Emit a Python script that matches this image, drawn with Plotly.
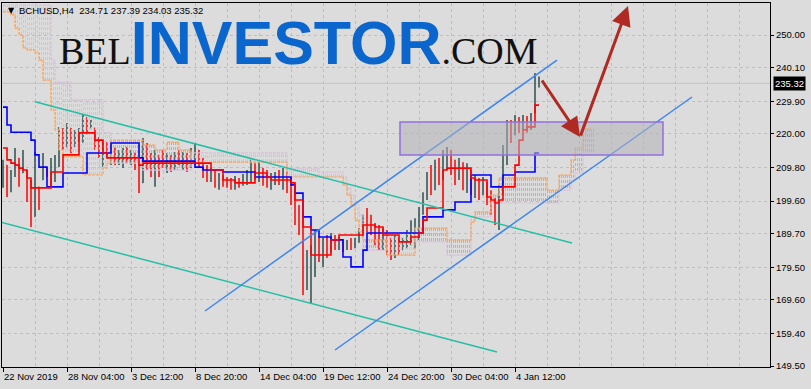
import plotly.graph_objects as go

# ---------------- data ----------------
SYMBOL = "BCHUSD,H4"
HEADER_OHLC = [234.71, 237.39, 234.03, 235.32]   # open, high, low, close of last bar
FIRST_OPEN = 204.0

# one sample every 2 H4 bars (bar index = 2*k), first bar 22 Nov 2019 20:00
HIGH = [
    212.1, 210.5, 209.0, 215.7, 212.7, 215.1, 209.0, 206.0, 214.5, 203.9,
    214.2, 209.9, 212.7, 213.6, 222.1, 221.8, 223.3, 221.8, 221.2, 221.8,
    225.7, 225.1, 224.2, 221.8, 219.0, 218.1, 217.5, 216.6, 215.7, 215.1,
    215.7, 216.0, 215.1, 214.2, 211.4, 218.7, 217.2, 214.2, 215.1, 213.6,
    215.1, 214.2, 213.6, 214.5, 215.1, 214.5, 214.2, 215.7, 217.2, 215.1,
    212.7, 210.5, 209.6, 209.0, 208.1, 207.5, 206.9, 206.6, 207.2, 206.6,
    207.8, 209.0, 212.1, 211.1, 211.4, 209.6, 209.0, 208.1, 208.4, 209.0,
    209.6, 208.4, 206.9, 202.0, 198.4, 196.0, 184.7, 186.2, 190.8, 188.7,
    188.4, 189.3, 189.9, 189.3, 188.7, 187.8, 187.8, 188.4, 188.4, 191.4,
    195.4, 197.5, 195.4, 192.9, 192.3, 191.4, 190.8, 188.4, 189.3, 188.4,
    188.4, 190.8, 193.8, 194.4, 197.8, 202.3, 208.4, 210.5, 212.1, 212.7,
    215.1, 216.0, 215.1, 212.1, 212.7, 211.4, 211.1, 209.0, 207.5, 206.6,
    206.9, 205.4, 202.9, 200.5, 204.5, 216.6, 224.2, 224.2, 225.7, 225.1,
    225.7, 225.4, 226.3, 238.5, 237.39,
]
LOW = [
    203.6, 200.8, 202.3, 206.9, 203.9, 208.1, 199.3, 191.7, 194.8, 196.9,
    206.0, 206.9, 203.9, 205.4, 209.9, 215.1, 216.0, 214.2, 216.0, 217.5,
    217.2, 219.9, 221.8, 215.1, 212.7, 209.9, 212.7, 210.5, 210.5, 210.5,
    209.6, 211.1, 210.5, 209.0, 202.0, 205.1, 209.0, 206.9, 203.9, 206.9,
    209.6, 208.1, 208.4, 209.0, 210.5, 209.0, 208.4, 209.6, 210.5, 209.6,
    206.6, 205.4, 205.4, 203.6, 203.0, 203.9, 203.6, 203.0, 203.0, 203.6,
    204.2, 204.5, 205.4, 206.0, 205.4, 204.2, 203.6, 203.0, 204.5, 204.5,
    203.0, 202.0, 198.4, 192.3, 189.3, 171.1, 172.6, 168.6, 176.5, 181.1,
    179.6, 182.3, 183.8, 184.7, 184.7, 184.1, 184.7, 184.7, 185.3, 186.9,
    188.7, 190.2, 189.3, 186.2, 184.7, 184.7, 183.2, 181.7, 182.3, 183.2,
    184.7, 185.3, 186.2, 185.3, 187.8, 195.4, 199.9, 201.4, 202.9, 204.5,
    206.0, 209.0, 207.5, 204.5, 206.0, 202.9, 202.0, 201.4, 200.5, 199.9,
    201.4, 198.4, 195.4, 192.3, 190.8, 201.4, 210.5, 217.2, 219.6, 220.3,
    221.2, 220.3, 221.2, 226.3, 234.03,
]
CLOSE = [
    210.5, 202.9, 207.5, 214.5, 206.0, 213.6, 200.5, 193.2, 212.7, 198.4,
    212.1, 209.0, 211.4, 212.7, 221.2, 216.0, 222.1, 215.1, 219.6, 221.2,
    224.8, 221.2, 222.1, 215.7, 213.3, 216.6, 213.6, 215.7, 212.1, 213.6,
    215.1, 212.7, 214.5, 210.5, 204.5, 216.6, 212.1, 209.0, 213.6, 212.1,
    210.5, 212.7, 209.6, 213.6, 212.1, 213.6, 210.5, 215.1, 215.7, 211.4,
    208.4, 206.6, 208.4, 205.1, 206.6, 206.0, 205.1, 204.5, 206.0, 205.4,
    206.9, 208.1, 210.5, 207.5, 209.6, 205.4, 204.5, 206.6, 207.5, 206.0,
    208.4, 204.5, 199.9, 193.8, 190.8, 174.1, 175.6, 183.2, 189.3, 183.2,
    186.2, 184.7, 188.4, 186.2, 187.8, 186.2, 186.9, 186.2, 187.8, 190.2,
    193.8, 192.3, 190.8, 189.3, 187.8, 189.3, 184.7, 183.2, 186.2, 184.7,
    187.2, 189.3, 192.3, 193.2, 196.3, 201.4, 206.6, 204.5, 209.6, 207.5,
    213.6, 214.5, 210.5, 206.6, 210.5, 204.5, 209.0, 202.9, 204.5, 201.4,
    205.4, 199.9, 196.9, 193.8, 202.9, 215.1, 222.7, 221.2, 224.2, 221.8,
    224.8, 222.7, 225.7, 236.9, 235.32,
]
TENKAN = [
    215.7, 212.1, 211.1, 210.5, 209.6, 209.0, 206.6, 203.6, 203.6, 203.6,
    203.6, 203.6, 208.4, 208.4, 208.4, 213.6, 213.6, 213.6, 213.6, 220.3,
    220.3, 220.3, 220.3, 218.1, 218.1, 214.2, 212.7, 212.7, 212.7, 212.7,
    212.7, 212.7, 212.7, 212.7, 210.5, 211.1, 211.1, 211.1, 211.1, 211.1,
    211.1, 211.1, 211.1, 211.1, 211.1, 211.1, 211.1, 211.1, 211.1, 211.1,
    211.1, 211.1, 209.0, 209.0, 209.0, 206.0, 206.0, 206.0, 205.1, 205.1,
    205.1, 205.1, 205.1, 208.1, 208.1, 208.1, 206.9, 206.0, 206.0, 206.0,
    206.0, 206.0, 205.1, 199.9, 199.9, 191.7, 191.7, 183.2, 183.2, 183.2,
    183.2, 183.2, 187.8, 187.8, 189.3, 189.3, 189.3, 189.3, 189.3, 189.3,
    192.3, 192.3, 192.3, 191.7, 191.7, 189.3, 189.3, 189.3, 189.3, 187.2,
    187.2, 187.2, 188.7, 188.7, 189.9, 193.8, 197.5, 197.5, 197.5, 197.5,
    209.0, 209.6, 209.6, 209.6, 209.6, 209.6, 209.6, 206.6, 206.0, 206.0,
    206.0, 200.8, 199.9, 199.0, 199.9, 203.9, 203.9, 203.9, 210.5, 218.1,
    221.2, 222.1, 222.1, 228.7, 228.7,
]
KIJUN = [
    228.1, 222.7, 220.5, 220.5, 220.5, 220.5, 220.5, 218.1, 213.6, 209.9,
    209.9, 203.9, 203.9, 203.9, 203.9, 208.1, 208.1, 208.1, 208.1, 208.1,
    208.1, 214.2, 214.2, 214.2, 214.2, 214.2, 214.2, 217.2, 217.2, 217.2,
    217.2, 217.2, 217.2, 217.2, 212.7, 211.7, 211.7, 211.7, 211.7, 211.7,
    211.7, 211.7, 211.7, 211.7, 211.7, 211.7, 211.7, 211.7, 209.9, 209.9,
    209.0, 209.0, 209.0, 209.0, 209.0, 208.4, 208.4, 208.4, 208.4, 208.4,
    208.4, 208.4, 208.4, 206.9, 206.9, 206.9, 206.9, 206.9, 206.9, 206.9,
    206.9, 206.9, 204.5, 202.0, 202.0, 194.8, 194.8, 190.8, 190.8, 188.7,
    188.7, 188.7, 187.8, 187.8, 187.8, 182.6, 182.6, 179.6, 179.6, 179.6,
    184.7, 189.9, 189.9, 189.9, 189.9, 189.9, 189.9, 189.9, 189.9, 189.9,
    189.9, 189.9, 189.9, 189.9, 189.9, 194.8, 194.8, 194.8, 194.8, 194.8,
    196.9, 196.9, 196.9, 199.3, 199.3, 199.3, 199.3, 207.5, 207.5, 207.5,
    207.5, 207.5, 203.9, 203.9, 203.9, 207.5, 207.5, 207.5, 208.4, 208.4,
    208.4, 208.4, 208.4, 214.2, 214.2,
]
SPAN_A = [
    257.0, 257.0, 256.1, 252.1, 250.0, 246.1, 245.4, 245.4, 244.5, 242.4,
    236.3, 236.3, 227.2, 221.2, 215.1, 213.0, 213.0, 213.0, 213.0, 213.0,
    207.5, 207.5, 207.5, 207.5, 207.5, 209.6, 211.1, 218.1, 218.1, 218.1,
    218.1, 218.1, 218.1, 218.1, 218.1, 216.6, 216.6, 216.6, 215.1, 215.1,
    215.1, 217.5, 217.5, 217.5, 215.1, 215.1, 215.1, 211.1, 211.1, 211.1,
    211.1, 211.1, 211.4, 211.4, 211.4, 211.4, 211.4, 211.4, 211.4, 211.4,
    211.4, 211.4, 211.4, 211.4, 211.4, 211.4, 211.4, 211.4, 211.4, 211.4,
    211.4, 206.9, 206.9, 206.9, 206.9, 206.9, 206.9, 206.9, 206.9, 206.9,
    206.9, 206.9, 206.9, 206.9, 206.9, 204.5, 201.4, 198.4, 193.8, 190.2,
    187.8, 187.8, 187.8, 187.8, 187.8, 187.8, 183.2, 183.2, 183.2, 183.2,
    183.2, 183.2, 183.2, 191.4, 191.4, 191.4, 191.4, 191.4, 191.4, 191.4,
    191.4, 187.8, 187.8, 187.8, 187.8, 187.8, 187.8, 193.2, 196.3, 196.3,
    196.3, 196.3, 201.4, 201.4, 206.6, 206.6, 206.6, 206.6, 206.6, 206.6,
    206.6, 206.6, 206.6, 206.6, 206.6, 206.6, 202.9, 202.9, 202.9, 207.5,
    207.5, 207.5, 212.1, 215.7, 215.7, 221.5, 221.5, 221.5,
]
SPAN_B = [
    259.1, 259.1, 259.1, 259.1, 259.1, 259.1, 259.1, 259.1, 259.1, 259.1,
    259.1, 259.1, 242.4, 235.7, 235.7, 235.7, 235.7, 230.3, 230.3, 230.3,
    230.3, 230.3, 230.3, 230.3, 230.3, 220.3, 220.3, 211.1, 211.1, 211.1,
    211.1, 211.1, 211.1, 211.1, 211.1, 209.0, 209.0, 209.0, 209.0, 209.0,
    209.0, 209.0, 209.0, 209.0, 209.0, 209.0, 209.0, 214.2, 214.2, 214.2,
    214.2, 214.2, 214.2, 214.2, 214.2, 214.2, 214.2, 214.2, 214.2, 214.2,
    214.2, 214.2, 214.2, 214.2, 214.2, 214.2, 214.2, 214.2, 214.2, 214.2,
    214.2, 209.6, 209.6, 209.6, 209.6, 209.6, 209.6, 209.6, 209.6, 208.4,
    208.4, 208.4, 208.4, 208.4, 208.4, 206.9, 203.6, 201.4, 198.4, 195.4,
    184.7, 184.7, 184.7, 184.7, 184.7, 184.7, 189.9, 189.9, 189.9, 189.9,
    189.9, 189.9, 189.9, 187.2, 187.2, 187.2, 187.2, 187.2, 187.2, 187.2,
    187.2, 183.2, 183.2, 183.2, 183.2, 183.2, 183.2, 194.8, 194.8, 194.8,
    194.8, 194.8, 199.0, 199.0, 199.0, 199.0, 199.0, 199.0, 199.0, 199.0,
    199.0, 199.0, 199.0, 199.0, 199.0, 199.0, 199.0, 199.0, 199.0, 202.9,
    202.9, 202.9, 206.0, 208.1, 208.1, 214.5, 214.5, 214.5,
]

X_TICK_BARS = [0, 32, 64, 96, 128, 160, 192, 224, 256]
X_TICK_LABELS = ["22 Nov 2019", "28 Nov 04:00", "3 Dec 12:00", "8 Dec 20:00",
                 "14 Dec 04:00", "19 Dec 12:00", "24 Dec 20:00", "30 Dec 04:00",
                 "4 Jan 12:00"]
Y_TICK_VALUES = [250.00, 240.10, 229.90, 220.00, 209.80, 199.60, 189.70,
                 179.50, 169.60, 159.40, 149.50]
Y_TICK_LABELS = ["250.00", "240.10", "229.90", "220.00", "209.80", "199.60",
                 "189.70", "179.50", "169.60", "159.40", "149.50"]

# analyst drawings: (bar index, price) endpoints
DOWN_CHANNEL = [((16, 229.75), (284.5, 186.85)), ((-1.5, 193.23), (247, 153.76))]
UP_CHANNEL = [((101, 166.21), (277, 242.41)), ((166, 154.37), (344.5, 231.18))]
ZONE = (198.5, 330, 213.6, 223.6)            # bar from, bar to, price low, price high
ARROWS = [((269, 236.65), (288.5, 219.0)), ((288.5, 219.0), (312.5, 258.8))]

# ---------------- figure ----------------
BG = "#DCDCDC"
GRID = "#BEBEBE"
fig = go.Figure()

bar_x = [2 * k for k in range(len(CLOSE))]
span_x = [2 * k for k in range(len(SPAN_A))]

# cloud hatch (one dotted column per bar, offset to land on a pixel centre)
hatch = {"up": ([], []), "dn": ([], [])}
for k, (a, b) in enumerate(zip(SPAN_A, SPAN_B)):
    key = "up" if a >= b else "dn"
    for xi in (2 * k + 0.25, 2 * k + 1.25):
        hatch[key][0].extend([xi, xi, None])
        hatch[key][1].extend([a, b, None])
for key, col in (("up", "#F4A460"), ("dn", "#D8BFD8")):
    fig.add_trace(go.Scatter(x=hatch[key][0], y=hatch[key][1], mode="lines",
                             line=dict(color=col, width=1, dash="3px,2px"),
                             hoverinfo="skip", showlegend=False))

fig.add_trace(go.Scatter(x=span_x, y=SPAN_B, mode="lines", line_shape="hv",
                         line=dict(color="#D8BFD8", width=1.2, dash="3px,1px"),
                         showlegend=False))
fig.add_trace(go.Scatter(x=span_x, y=SPAN_A, mode="lines", line_shape="hv",
                         line=dict(color="#F4A460", width=1.2, dash="3px,1px"),
                         showlegend=False))

# price bars
opens = []
prev = FIRST_OPEN
for h, l, c in zip(HIGH, LOW, CLOSE):
    opens.append(min(max(prev, l), h))
    prev = c
opens[-1] = HEADER_OHLC[0]
fig.add_trace(go.Ohlc(x=bar_x, open=opens, high=HIGH, low=LOW, close=CLOSE,
                      increasing=dict(line=dict(color="#2F4F4F", width=1.5)),
                      decreasing=dict(line=dict(color="#FF0000", width=1.5)),
                      tickwidth=0.1, showlegend=False))

fig.add_trace(go.Scatter(x=bar_x, y=KIJUN, mode="lines", line_shape="hv",
                         line=dict(color="#0000FF", width=1.6), showlegend=False))
fig.add_trace(go.Scatter(x=bar_x, y=TENKAN, mode="lines", line_shape="hv",
                         line=dict(color="#FF0000", width=1.6), showlegend=False))

shapes = []
for (x0, y0), (x1, y1) in DOWN_CHANNEL:
    shapes.append(dict(type="line", xref="x", yref="y", x0=x0, y0=y0, x1=x1, y1=y1,
                       line=dict(color="#26BFA5", width=1.5)))
for (x0, y0), (x1, y1) in UP_CHANNEL:
    shapes.append(dict(type="line", xref="x", yref="y", x0=x0, y0=y0, x1=x1, y1=y1,
                       line=dict(color="#3D85F0", width=1.5)))
shapes.append(dict(type="rect", xref="x", yref="y", x0=ZONE[0], x1=ZONE[1],
                   y0=ZONE[2], y1=ZONE[3], fillcolor="rgba(178,178,184,0.55)",
                   line=dict(color="#9370DB", width=1.5)))
shapes.append(dict(type="line", xref="paper", yref="y", x0=0, x1=1,
                   y0=HEADER_OHLC[3], y1=HEADER_OHLC[3],
                   line=dict(color="#C4C4C4", width=1), layer="below"))

annotations = []
for (tx, ty), (hx, hy) in ARROWS:
    annotations.append(dict(x=hx, y=hy, ax=tx, ay=ty, xref="x", yref="y",
                            axref="x", ayref="y", text="", showarrow=True,
                            arrowhead=2, arrowsize=1.3, arrowwidth=3,
                            arrowcolor="#AE2A22", standoff=0))

# watermark (box trimmed to the capitals so it does not cover the header line)
annotations.append(dict(
    xref="paper", yref="paper", x=(57 - 2) / 768, y=(367 - 43) / 364,
    xanchor="left", yanchor="middle", showarrow=False, height=52, valign="middle",
    font=dict(family="Liberation Serif", size=38, color="#111111"),
    text=("BEL<span style=\"font-family:'Liberation Sans';font-size:61px;"
          "font-weight:bold;color:#0A66CC\">INVESTOR</span>.COM")))

# header
annotations.append(dict(xref="paper", yref="paper", x=(6 - 2) / 768, y=(367 - 10) / 364,
                        xanchor="left", yanchor="middle", showarrow=False,
                        text="▼", font=dict(family="DejaVu Sans", size=8, color="black")))
annotations.append(dict(xref="paper", yref="paper", x=(17 - 2) / 768, y=(367 - 10) / 364,
                        xanchor="left", yanchor="middle", showarrow=False,
                        text=SYMBOL + "\u00a0\u00a0" + "\u00a0".join(f"{v:.2f}" for v in HEADER_OHLC),
                        font=dict(family="Liberation Sans", size=9.5, color="black")))

# x labels (left aligned at ticks, MT4 style)
for xb, lab in zip(X_TICK_BARS, X_TICK_LABELS):
    annotations.append(dict(xref="x", yref="paper", x=xb, y=-9.5 / 364, xanchor="left",
                            yanchor="middle", xshift=-1, showarrow=False, text=lab,
                            font=dict(family="Liberation Sans", size=9.5, color="black")))

# current price tag
annotations.append(dict(xref="paper", yref="y", x=1, y=HEADER_OHLC[3], xanchor="left",
                        yanchor="middle", xshift=3, showarrow=False,
                        text=f"{HEADER_OHLC[3]:.2f}", bgcolor="black", borderpad=1,
                        font=dict(family="Liberation Sans", size=9.5, color="white")))

fig.update_layout(
    width=811, height=389, margin=dict(l=2, r=41, t=3, b=22),
    paper_bgcolor=BG, plot_bgcolor=BG, showlegend=False,
    font=dict(family="Liberation Sans", size=9.5, color="black"),
    shapes=shapes, annotations=annotations,
    xaxis=dict(range=[-0.5, 383.5], tickmode="array", tickvals=X_TICK_BARS,
               showticklabels=False, ticks="outside", ticklen=4, tickcolor="black",
               showgrid=True, gridcolor=GRID, griddash="3px,3px", gridwidth=1,
               minor=dict(tick0=0, dtick=16, showgrid=True, gridcolor=GRID,
                          griddash="3px,3px", ticks=""),
               showline=True, mirror=True, linecolor="black", linewidth=1,
               zeroline=False, rangeslider=dict(visible=False)),
    yaxis=dict(range=[149.21, 259.72], side="right", tickmode="array",
               tickvals=Y_TICK_VALUES, ticktext=Y_TICK_LABELS, ticks="outside",
               ticklen=3, tickcolor="black", showgrid=True, gridcolor=GRID,
               griddash="3px,3px", gridwidth=1, showline=True, mirror=True,
               linecolor="black", linewidth=1, zeroline=False,
               tickfont=dict(family="Liberation Sans", size=9.5, color="black")),
)

fig.write_html("out.html")
